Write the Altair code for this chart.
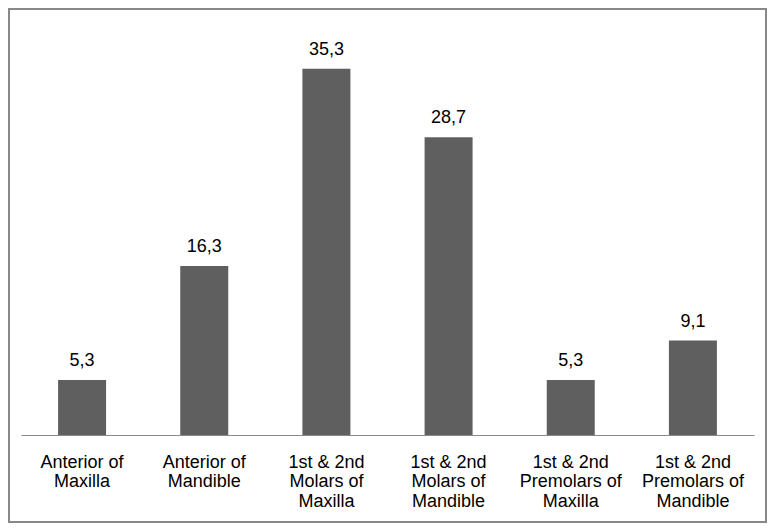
import altair as alt
import pandas as pd

categories = [
    "Anterior of\nMaxilla",
    "Anterior of\nMandible",
    "1st & 2nd\nMolars of\nMaxilla",
    "1st & 2nd\nMolars of\nMandible",
    "1st & 2nd\nPremolars of\nMaxilla",
    "1st & 2nd\nPremolars of\nMandible",
]
values = [5.3, 16.3, 35.3, 28.7, 5.3, 9.1]

df = pd.DataFrame({"category": categories, "value": values})

FONT = "Liberation Sans"
W, H = 733, 415

x = alt.X(
    "category:N",
    sort=categories,
    title=None,
    scale=alt.Scale(paddingInner=0.607, paddingOuter=0.3035),
    axis=alt.Axis(
        labelAngle=0,
        labelExpr="split(datum.label, '\\n')",
        labelFont=FONT,
        labelFontSize=18,
        labelColor="black",
        labelLineHeight=19.5,
        labelPadding=18,
        labelBaseline="top",
        ticks=False,
        domainColor="#8a8a8a",
        domainWidth=1,
        grid=False,
        labelLimit=0,
    ),
)
y = alt.Y(
    "value:Q",
    scale=alt.Scale(domain=[0, 40], nice=False),
    axis=None,
)

base = alt.Chart(df)

bars = base.mark_bar(color="#5f5f5f", size=48).encode(x=x, y=y)

labels = base.transform_calculate(
    lab="replace(format(datum.value, '.1f'), '.', ',')"
).mark_text(
    baseline="bottom", dy=-10, font=FONT, fontSize=18, color="black"
).encode(x=x, y=y, text="lab:N")

border = alt.Chart(df).mark_rect(
    fill=None, stroke="#888888", strokeWidth=2, clip=False
).encode(
    x=alt.value(-12),
    x2=alt.value(W + 12),
    y=alt.value(-11),
    y2=alt.value(H + 87),
)

chart = alt.layer(border, bars, labels).properties(
    width=W,
    height=H,
    padding={"left": 13, "top": 12, "right": 13, "bottom": 88},
    autosize=alt.AutoSizeParams(type="none"),
    background="white",
).configure_view(stroke=None, strokeWidth=0)

chart.save("out.html", embed_options={"renderer": "svg", "actions": False})
